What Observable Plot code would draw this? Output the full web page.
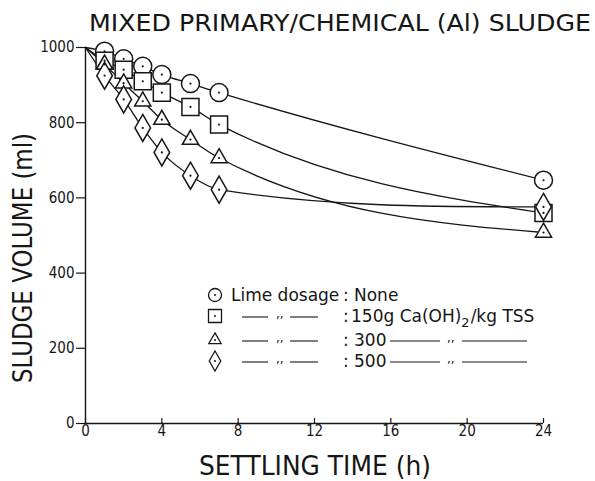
<!DOCTYPE html>
<html><head><meta charset="utf-8">
<script src="https://cdn.jsdelivr.net/npm/d3@7"></script>
<script src="https://cdn.jsdelivr.net/npm/@observablehq/plot@0.6"></script>
<style>
body{margin:0;background:#fff;}
#chart{position:relative;width:595px;height:481px;overflow:hidden;}
#chart svg{position:absolute;left:0;top:0;}
</style></head><body><div id="chart"></div>
<script>
// ---- data ----
const times = [0, 1, 2, 3, 4, 5.5, 7, 24];
const seriesKeys = ["None", "150", "300", "500"];
const volNone = [1000, 990, 970, 950, 928, 904, 880, 647];
const vol150  = [1000, 965, 941, 910, 880, 842, 795, 560];
const vol300  = [1000, 955, 905, 857, 808, 755, 706, 508];
const vol500  = [1000, 925, 862, 786, 721, 659, 622, 576];
const xTicks = [0, 4, 8, 12, 16, 20, 24];
const yTicks = [0, 200, 400, 600, 800, 1000];
const titleText = "MIXED PRIMARY/CHEMICAL (Al) SLUDGE";
const xLabel = "SETTLING TIME (h)";
const yLabel = "SLUDGE VOLUME (ml)";
const legendLabels = ["None", "150g Ca(OH)", "300", "500"];

// ---- styles ----
const symbols = ["circle", "square", "triangle", "diamond"];
const radii = [9, 9.6, 6, 8.2];
const ink = "#161616";
const font = "DejaVu Sans";
const tickFont = "DejaVu Sans Condensed, Liberation Sans, sans-serif";

// smooth monotone curve (Hermite), tangents weighted toward the nearer neighbour
function curveSmooth(context) {
  let xs = [], ys = [];
  return {
    areaStart() {}, areaEnd() {},
    lineStart() { xs = []; ys = []; },
    point(x, y) { xs.push(+x); ys.push(+y); },
    lineEnd() {
      const n = xs.length;
      if (!n) return;
      context.moveTo(xs[0], ys[0]);
      if (n === 1) return;
      if (n === 2) { context.lineTo(xs[1], ys[1]); return; }
      const h = [], s = [], m = new Array(n);
      for (let i = 0; i < n - 1; i++) { h[i] = xs[i + 1] - xs[i]; s[i] = (ys[i + 1] - ys[i]) / h[i]; }
      for (let i = 1; i < n - 1; i++) {
        if (s[i - 1] * s[i] <= 0) { m[i] = 0; continue; }
        const p = (s[i - 1] * h[i] + s[i] * h[i - 1]) / (h[i - 1] + h[i]);
        m[i] = (p + (s[i - 1] + s[i]) / 2) / 2;
      }
      m[0] = (3 * s[0] - m[1]) / 2; if (m[0] * s[0] <= 0) m[0] = 0;
      m[n - 1] = (3 * s[n - 2] - m[n - 2]) / 2; if (m[n - 1] * s[n - 2] <= 0) m[n - 1] = 0;
      for (let i = 0; i < n - 1; i++) {
        if (s[i] === 0) { m[i] = m[i + 1] = 0; continue; }
        const a = m[i] / s[i], b = m[i + 1] / s[i], r = a * a + b * b;
        if (r > 9) { const t = 3 / Math.sqrt(r); m[i] = t * a * s[i]; m[i + 1] = t * b * s[i]; }
      }
      for (let i = 0; i < n - 1; i++) {
        const dx = h[i] / 3;
        context.bezierCurveTo(xs[i] + dx, ys[i] + m[i] * dx, xs[i + 1] - dx, ys[i + 1] - m[i + 1] * dx, xs[i + 1], ys[i + 1]);
      }
    }
  };
}

const allSeries = [volNone, vol150, vol300, vol500];
const rows = [];
allSeries.forEach((vals, i) => vals.forEach((v, j) => rows.push({t: times[j], v, s: seriesKeys[i], i})));
const pts = rows.filter(d => d.t > 0);

const marks = [
  Plot.ruleX([0], {stroke: ink, strokeWidth: 1.4}),
  Plot.ruleY([0], {stroke: ink, strokeWidth: 1.4}),
  Plot.axisY({ticks: yTicks, tickFormat: d3.format("d"), tickSize: 9, tickPadding: 2, fontSize: 15, fontFamily: tickFont, label: null, stroke: ink, strokeWidth: 1.2, fill: ink}),
  Plot.axisX({ticks: xTicks, tickFormat: d3.format("d"), tickSize: -5, tickPadding: 7, fontSize: 15, fontFamily: tickFont, label: null, stroke: ink, strokeWidth: 1.2, fill: ink}),
  Plot.line(rows, {x: "t", y: "v", z: "s", curve: curveSmooth, stroke: ink, strokeWidth: 1.3}),
  ...seriesKeys.map((k, i) => Plot.dot(pts.filter(d => d.i === i), {x: "t", y: "v", symbol: symbols[i], r: radii[i], fill: "white", stroke: ink, strokeWidth: 1.5})),
  Plot.dot(pts, {x: "t", y: "v", r: 1.1, fill: ink, stroke: null})
];

const chart = Plot.plot({
  width: 595, height: 481,
  marginLeft: 85, marginRight: 52, marginTop: 47, marginBottom: 58,
  x: {domain: [0, 24]},
  y: {domain: [0, 1000]},
  style: {background: "white", color: ink, fontFamily: font},
  marks
});
document.getElementById("chart").appendChild(chart);

// ---- title, axis labels, legend (text overlay) ----
const svg = d3.select(chart);
const g = svg.append("g").attr("fill", ink).attr("font-family", font);
g.append("text").attr("x", 340).attr("y", 31).attr("text-anchor", "middle")
  .attr("font-size", 23).attr("textLength", 502).attr("lengthAdjust", "spacingAndGlyphs").text(titleText);
g.append("text").attr("x", 315).attr("y", 475).attr("text-anchor", "middle")
  .attr("font-size", 27).attr("textLength", 232).attr("lengthAdjust", "spacingAndGlyphs").text(xLabel);
g.append("text").attr("transform", "translate(32,258) rotate(-90)").attr("text-anchor", "middle")
  .attr("font-size", 26).attr("textLength", 250).attr("lengthAdjust", "spacingAndGlyphs").text(yLabel);

// legend
const lg = svg.append("g").attr("font-family", font).attr("fill", ink).attr("text-anchor", "start");
const rowY = [295, 316, 340, 361];
const legSym = [
  d3.symbol(d3.symbolCircle, Math.PI * 6.5 * 6.5),
  d3.symbol(d3.symbolSquare, 13 * 13),
  d3.symbol(d3.symbolTriangle, 65),
  d3.symbol(d3.symbolDiamond, 115)
];
const txt = (x, y, s, size = 17) =>
  lg.append("text").attr("x", x).attr("y", y).attr("font-size", size).attr("text-anchor", "start").text(s);
const dash = (x1, x2, y) => lg.append("line").attr("x1", x1).attr("x2", x2).attr("y1", y).attr("y2", y).attr("stroke", ink).attr("stroke-width", 1.1);
rowY.forEach((y, i) => {
  lg.append("path").attr("d", legSym[i]()).attr("transform", `translate(215,${y})`)
    .attr("fill", "white").attr("stroke", ink).attr("stroke-width", 1.3);
  lg.append("circle").attr("cx", 215).attr("cy", y).attr("r", 1).attr("fill", ink);
  const b = y + 6;
  if (i === 0) {
    txt(231, b, "Lime dosage");
    txt(343, b, ":");
    txt(354, b, legendLabels[0]);
  } else {
    dash(242, 268, y + 1);
    txt(276, y + 2, ",,", 12);
    dash(290, 318, y + 1);
    txt(343, b, ":");
    if (i === 1) {
      const t = txt(351, b, legendLabels[1]);
      t.append("tspan").attr("dy", 5).attr("font-size", 13).text("2");
      t.append("tspan").attr("dy", -5).attr("dx", 1).text("/kg TSS");
    } else {
      txt(354, b, legendLabels[i]);
      dash(390, 440, y + 1);
      txt(447, y + 2, ",,", 12);
      dash(462, 527, y + 1);
    }
  }
});
</script>
</body></html>
